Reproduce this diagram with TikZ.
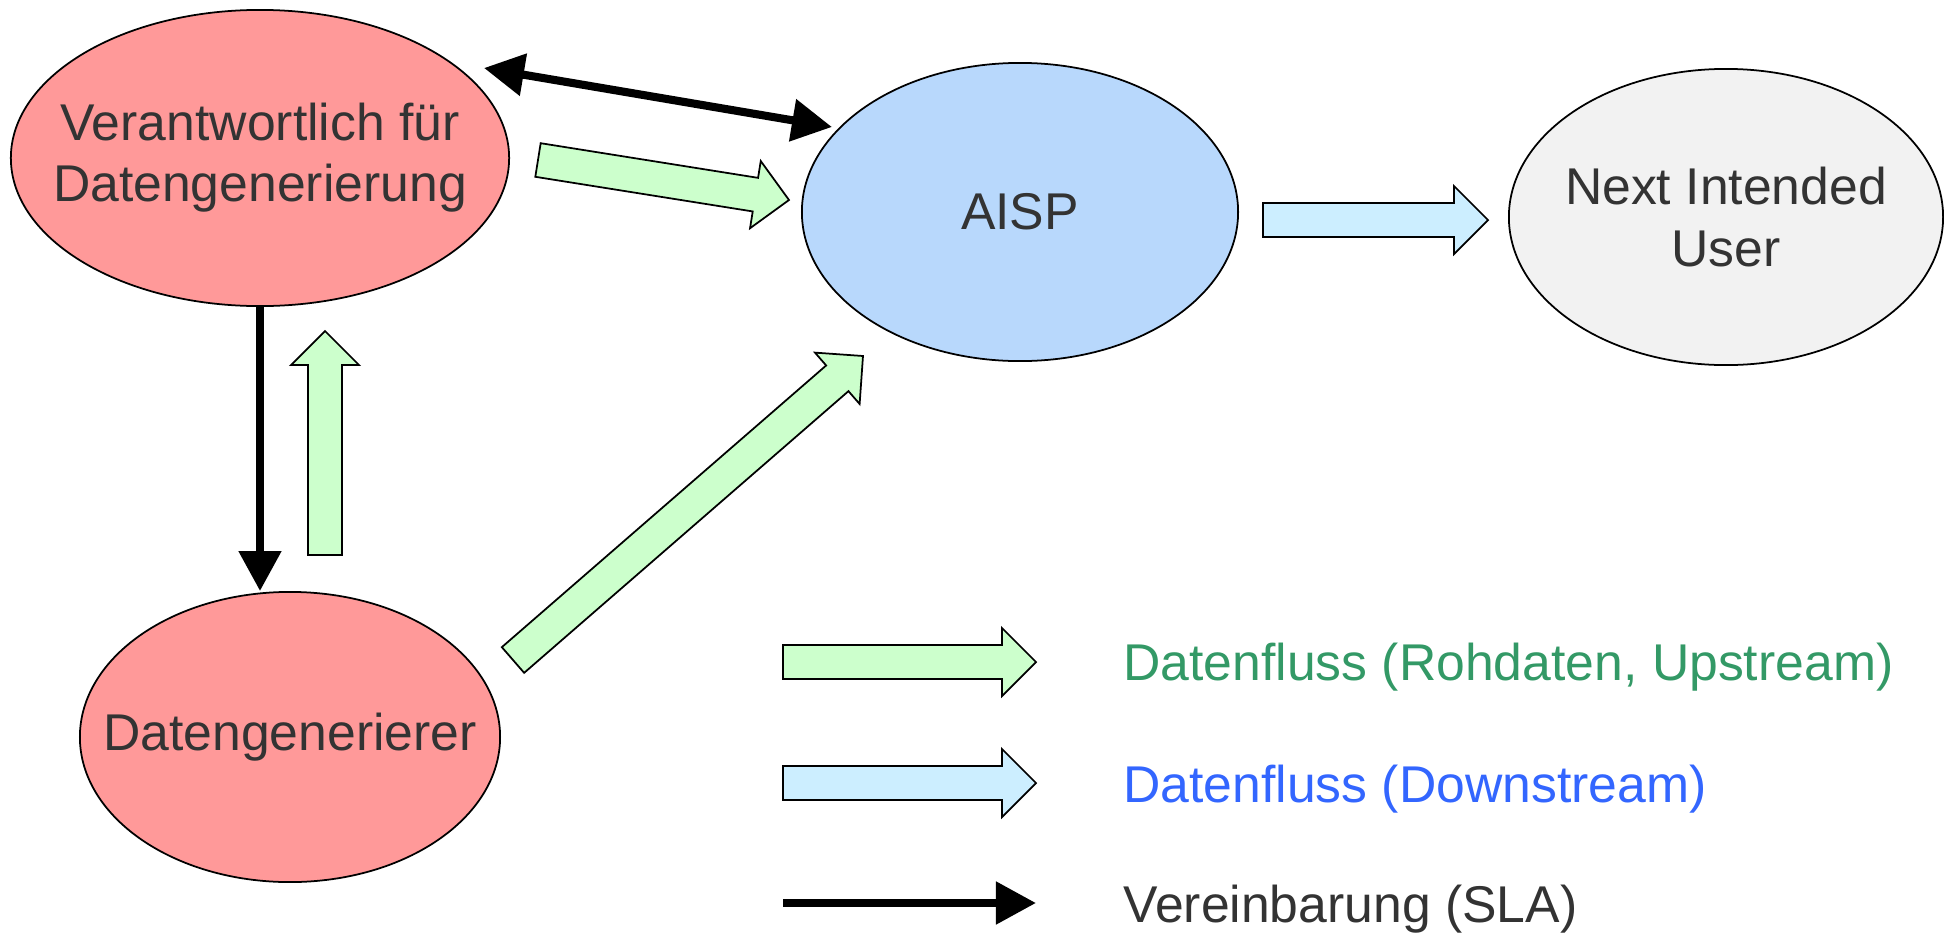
\documentclass[tikz,border=0pt]{standalone}
\usepackage{fontspec}
\setmainfont{Liberation Sans}
\usetikzlibrary{shapes.geometric,arrows.meta,calc}

\definecolor{gensred}{HTML}{FF9999}
\definecolor{aispblue}{HTML}{B8D8FC}
\definecolor{usergray}{HTML}{F2F2F2}
\definecolor{upgreen}{HTML}{CCFFCC}
\definecolor{downblue}{HTML}{CCEEFF}
\definecolor{txtgray}{HTML}{333333}
\definecolor{upgreentxt}{HTML}{339966}
\definecolor{downbluetxt}{HTML}{3366FF}

\tikzset{
  party/.style={ellipse, draw=black, line width=0.5pt, inner sep=0pt},
  partytext/.style={text=txtgray, align=center},
  % fat outlined arrow from start to target
  flow/.style={draw=black, line width=0.5pt, to path={
      ($(\tikztostart)!0.17cm!90:(\tikztotarget)$)
      -- ($($(\tikztotarget)!0.34cm!(\tikztostart)$)!0.17cm!90:(\tikztotarget)$)
      -- ($($(\tikztotarget)!0.34cm!(\tikztostart)$)!0.34cm!90:(\tikztotarget)$)
      -- (\tikztotarget)
      -- ($($(\tikztotarget)!0.34cm!(\tikztostart)$)!0.34cm!-90:(\tikztotarget)$)
      -- ($($(\tikztotarget)!0.34cm!(\tikztostart)$)!0.17cm!-90:(\tikztotarget)$)
      -- ($(\tikztostart)!0.17cm!-90:(\tikztotarget)$) -- cycle}},
  slatip/.tip={Triangle[length=4mm, width=4.1mm]},
  sla/.style={line width=2.3pt}
}

\begin{document}
\begin{tikzpicture}[x=0.01cm, y=-0.01cm, font=\fontsize{14.7}{17.4}\selectfont]
    \useasboundingbox (0,0) rectangle (1944,933);

    % parties
    \node[party, fill=gensred, minimum width=4.98cm, minimum height=2.96cm,
      label={[partytext]center:Verantwortlich für\\Datengenerierung}] (verantw) at (260,158) {};
    \node[party, fill=gensred, minimum width=4.2cm, minimum height=2.9cm,
      label={[partytext]center:Datengenerierer}] (gen) at (290,737) {};
    \node[party, fill=aispblue, minimum width=4.36cm, minimum height=2.98cm,
      label={[partytext]center:AISP}] (aisp) at (1020,212) {};
    \node[party, fill=usergray, minimum width=4.34cm, minimum height=2.96cm,
      label={[partytext]center:Next Intended\\User}] (next) at (1726,217) {};

    % arrow ends
    \coordinate (sla-a) at (484,68);
    \coordinate (sla-b) at (832,127);
    \coordinate (up-s) at (325,555);
    \coordinate (up-e) at (325,331);
    \coordinate (va-s) at (538,160);
    \coordinate (va-e) at (789,200);
    \coordinate (ga-s) at (513,660);
    \coordinate (ga-e) at (863,356);
    \coordinate (an-s) at (1263,220);
    \coordinate (an-e) at (1488,220);

    % agreements
    \draw[sla, slatip-slatip] (sla-a) -- (sla-b);
    \draw[sla, -slatip] (verantw.south) -- (verantw.south |- gen.north);

    % data flows
    \filldraw[flow, fill=upgreen] (up-s) to (up-e);
    \filldraw[flow, fill=upgreen] (va-s) to (va-e);
    \filldraw[flow, fill=upgreen] (ga-s) to (ga-e);
    \filldraw[flow, fill=downblue] (an-s) to (an-e);

    % legend
    \node[anchor=base west, text=upgreentxt] (lup) at (1111,680) {Datenfluss (Rohdaten, Upstream)};
    \node[anchor=base west, text=downbluetxt] (ldown) at (1111,802) {Datenfluss (Downstream)};
    \node[anchor=base west, text=txtgray] (lsla) at (1111,922) {Vereinbarung (SLA)};
    \coordinate (lup-s) at (783,662);
    \coordinate (lup-e) at (1036,662);
    \coordinate (ldown-s) at (783,783);
    \coordinate (ldown-e) at (1036,783);
    \coordinate (lsla-s) at (783,903);
    \coordinate (lsla-e) at (1036,903);
    \filldraw[flow, fill=upgreen] (lup-s) to (lup-e);
    \filldraw[flow, fill=downblue] (ldown-s) to (ldown-e);
    \draw[sla, -slatip] (lsla-s) -- (lsla-e);
\end{tikzpicture}
\end{document}
